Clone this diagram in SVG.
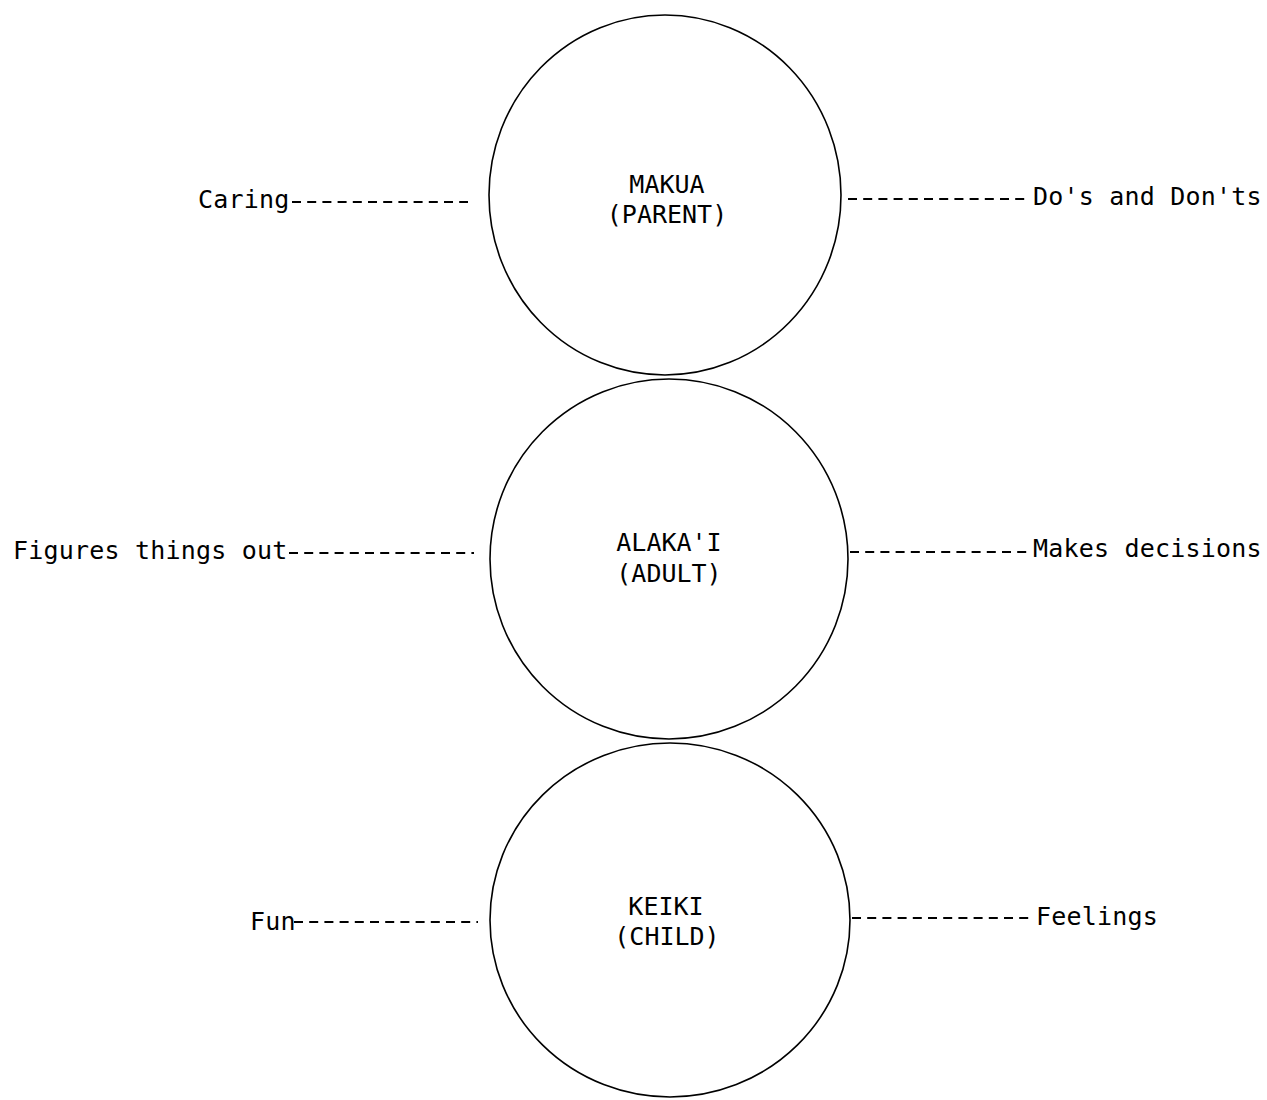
<svg xmlns="http://www.w3.org/2000/svg" width="1267" height="1100" viewBox="0 0 1267 1100">
<style>
  .bg { fill: #ffffff; }
  .node { fill: none; stroke: #000; stroke-width: 1.6; }
  .lbl { font-family: "DejaVu Sans Mono", "Liberation Mono", monospace; font-size: 25px; fill: #000; letter-spacing: 0.2px; }
  .ctr { font-family: "DejaVu Sans Mono", "Liberation Mono", monospace; font-size: 25px; fill: #000; text-anchor: middle; }
  .dash { stroke: #000; stroke-width: 2.2; stroke-dasharray: 9 6.2; fill: none; }
</style>
<rect class="bg" x="0" y="0" width="1267" height="1100"/>

<g id="connectors">
  <line class="dash" x1="292" y1="202" x2="468" y2="202"/>
  <line class="dash" x1="848" y1="199" x2="1028" y2="199"/>
  <line class="dash" x1="289" y1="553" x2="474" y2="553"/>
  <line class="dash" x1="850" y1="552" x2="1031" y2="552"/>
  <line class="dash" x1="294" y1="922" x2="478" y2="922"/>
  <line class="dash" x1="852" y1="918" x2="1034" y2="918"/>
</g>

<g id="node-makua">
  <ellipse class="node" cx="665" cy="195" rx="176" ry="180"/>
  <text class="ctr" x="667" y="193">MAKUA</text>
  <text class="ctr" x="667" y="223">(PARENT)</text>
</g>
<g id="node-alakai">
  <ellipse class="node" cx="669" cy="559" rx="179" ry="180"/>
  <text class="ctr" x="669" y="551">ALAKA'I</text>
  <text class="ctr" x="669" y="582">(ADULT)</text>
</g>
<g id="node-keiki">
  <ellipse class="node" cx="670" cy="920" rx="180" ry="177"/>
  <text class="ctr" x="666" y="915">KEIKI</text>
  <text class="ctr" x="667" y="945">(CHILD)</text>
</g>

<g id="label-caring"><text class="lbl" x="198" y="208">Caring</text></g>
<g id="label-dos"><text class="lbl" x="1033" y="205">Do's and Don'ts</text></g>
<g id="label-figures"><text class="lbl" x="13" y="559">Figures things out</text></g>
<g id="label-makes"><text class="lbl" x="1033" y="557">Makes decisions</text></g>
<g id="label-fun"><text class="lbl" x="250" y="930">Fun</text></g>
<g id="label-feelings"><text class="lbl" x="1036" y="925">Feelings</text></g>
</svg>
